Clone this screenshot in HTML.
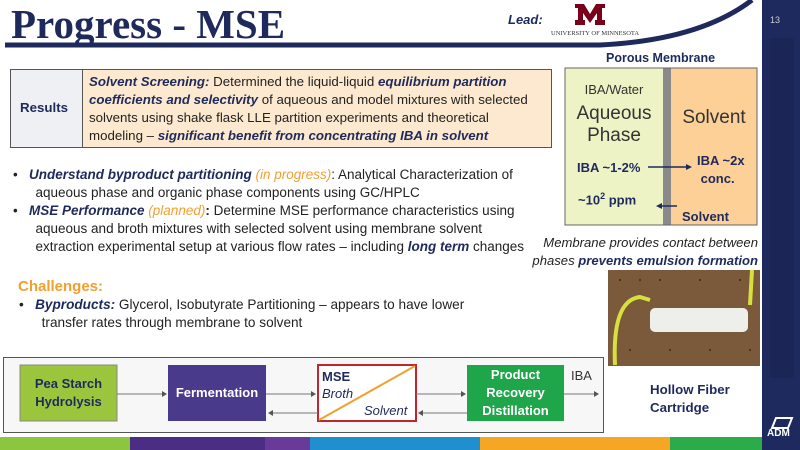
<!DOCTYPE html>
<html><head><meta charset="utf-8"><style>
body{margin:0;width:800px;height:450px;overflow:hidden;background:#fff;font-family:"Liberation Sans",sans-serif;position:relative}
.a{position:absolute;white-space:nowrap}
.n{color:#1f2a5c}
.t{font-size:13.3px;line-height:18px;color:#222}
.o{color:#f0a030}
.box{position:absolute;display:flex;align-items:center;justify-content:center;text-align:center;color:#fff;font-weight:bold;font-size:13px;line-height:18px}
</style></head><body>
<svg class="a" style="left:0;top:0" width="800" height="450">
<path d="M5 45 L600 45 Q700 40 752 0" stroke="#1f2a5c" stroke-width="5" fill="none"/>
<rect x="762" y="0" width="38" height="450" fill="#1e2a5e"/>
<rect x="770" y="38" width="24" height="340" fill="#1b2656"/>
<rect x="0" y="437" width="130" height="13" fill="#8cc63f"/>
<rect x="130" y="437" width="180" height="13" fill="#4b2e83"/>
<rect x="265" y="437" width="45" height="13" fill="#6a3a9a"/>
<rect x="310" y="437" width="170" height="13" fill="#1f8fd0"/>
<rect x="480" y="437" width="190" height="13" fill="#f5a623"/>
<rect x="670" y="437" width="92" height="13" fill="#2bab4a"/>
<path d="M575 25 L575 20 L578 20 L578 8 L575 8 L575 4 L584 4 L590 14 L596 4 L605 4 L605 8 L602 8 L602 20 L605 20 L605 25 L595 25 L595 20 L597 20 L597 13 L590 23 L583 13 L583 20 L585 20 L585 25 Z" fill="#7a0019"/>
<rect x="10.5" y="69.5" width="541" height="78" fill="#fde9cf" stroke="#555" stroke-width="1"/>
<rect x="10.5" y="69.5" width="72" height="78" fill="#eef0f4" stroke="#555" stroke-width="1"/>
<rect x="565" y="68" width="98" height="157" fill="#eef3c6"/>
<rect x="663" y="68" width="8" height="157" fill="#8a8a8a"/>
<rect x="671" y="68" width="86" height="157" fill="#fcd096"/>
<rect x="565" y="68" width="192" height="157" fill="none" stroke="#666"/>
<line x1="648" y1="167" x2="688" y2="167" stroke="#1f2a5c" stroke-width="1.5"/><path d="M692 167 L686 164 L686 170Z" fill="#1f2a5c"/>
<line x1="677" y1="206" x2="660" y2="206" stroke="#1f2a5c" stroke-width="1.5"/><path d="M656 206 L662 203 L662 209Z" fill="#1f2a5c"/>
<rect x="608" y="270" width="152" height="96" fill="#7a5a3a"/>
<g fill="#3a2a1a"><circle cx="620" cy="280" r="1"/><circle cx="640" cy="280" r="1"/><circle cx="660" cy="280" r="1"/><circle cx="700" cy="280" r="1"/><circle cx="740" cy="280" r="1"/><circle cx="630" cy="350" r="1"/><circle cx="670" cy="350" r="1"/><circle cx="710" cy="350" r="1"/><circle cx="750" cy="350" r="1"/></g>
<rect x="650" y="308" width="98" height="24" rx="5" fill="#eeeeea"/>
<path d="M615 365 Q612 300 640 297 L650 300" stroke="#d8e040" stroke-width="4" fill="none"/>
<path d="M750 305 L752 270" stroke="#d8e040" stroke-width="4" fill="none"/>
<rect x="3.5" y="357.5" width="600" height="75" fill="#f7f7f7" stroke="#555"/>
<rect x="20" y="365" width="97" height="56" fill="#9bc53d" stroke="#888"/>
<rect x="168" y="365" width="98" height="56" fill="#4a3a8c"/>
<rect x="318" y="365" width="98" height="56" fill="#fff" stroke="#c0262d" stroke-width="2"/>
<line x1="319" y1="420" x2="415" y2="366" stroke="#f0a030" stroke-width="2"/>
<rect x="467" y="365" width="97" height="56" fill="#1fa64a"/>
<g stroke="#777" stroke-width="1"><line x1="117" y1="394" x2="164" y2="394"/><line x1="266" y1="394" x2="313" y2="394"/><line x1="416" y1="394" x2="463" y2="394"/><line x1="564" y1="394" x2="596" y2="394"/><line x1="318" y1="413" x2="272" y2="413"/><line x1="467" y1="413" x2="422" y2="413"/></g>
<g fill="#555"><path d="M167 394l-5-3v6z"/><path d="M316 394l-5-3v6z"/><path d="M466 394l-5-3v6z"/><path d="M599 394l-5-3v6z"/><path d="M268 413l5-3v6z"/><path d="M418 413l5-3v6z"/></g>
<path d="M776 418 L792 418 L788 428 L772 428 Z" fill="none" stroke="#fff" stroke-width="2"/>
</svg>
<div class="a n" style="left:11px;top:2px;font:bold 41px 'Liberation Serif',serif;line-height:44px">Progress - MSE</div>
<div class="a n" style="left:508px;top:12px;font:italic bold 13px 'Liberation Sans',sans-serif">Lead:</div>
<div class="a" style="left:551px;top:30px;font:6.5px 'Liberation Serif',serif;color:#333">UNIVERSITY OF MINNESOTA</div>
<div class="a" style="left:770px;top:15px;font-size:9px;color:#ccc">13</div>
<div class="a n" style="left:20px;top:100px;font-weight:bold;font-size:13.3px">Results</div>
<div class="a t" style="left:89px;top:73px"><b><i class="n">Solvent Screening:</i></b> Determined the liquid-liquid <b><i class="n">equilibrium partition</i></b><br><b><i class="n">coefficients and selectivity</i></b> of aqueous and model mixtures with selected<br>solvents using shake flask LLE partition experiments and theoretical<br>modeling – <b><i class="n">significant benefit from concentrating IBA in solvent</i></b></div>
<div class="a n" style="left:606px;top:51px;font-weight:bold;font-size:12.5px">Porous Membrane</div>
<div class="a" style="left:565px;width:98px;top:82px;text-align:center;font-size:13px;color:#333">IBA/Water</div>
<div class="a" style="left:565px;width:98px;top:103px;text-align:center;font-size:19px;line-height:22px;color:#333">Aqueous<br>Phase</div>
<div class="a" style="left:671px;width:86px;top:107px;text-align:center;font-size:19px;color:#333">Solvent</div>
<div class="a n" style="left:577px;top:160px;font-weight:bold;font-size:13px">IBA ~1-2%</div>
<div class="a n" style="left:697px;top:152px;font-weight:bold;font-size:13px;line-height:18px">IBA ~2x<br>&nbsp;conc.</div>
<div class="a n" style="left:578px;top:191px;font-weight:bold;font-size:13px">~10<sup style="font-size:9px">2</sup> ppm</div>
<div class="a n" style="left:682px;top:209px;font-weight:bold;font-size:13px">Solvent</div>
<div class="a" style="right:42px;top:234px;text-align:right;font-style:italic;font-size:13.1px;line-height:18px;color:#222">Membrane provides contact between<br>phases <b class="n">prevents emulsion formation</b></div>
<div class="a t" style="left:13px;top:166px;font-size:13.5px">•&nbsp;&nbsp;&nbsp;<b><i class="n">Understand byproduct partitioning</i></b> <i class="o">(in progress)</i>: Analytical Characterization of<br>&nbsp;&nbsp;&nbsp;&nbsp;&nbsp;&nbsp;aqueous phase and organic phase components using GC/HPLC<br>•&nbsp;&nbsp;&nbsp;<b><i class="n">MSE Performance</i></b> <i class="o">(planned)</i><b>:</b> Determine MSE performance characteristics using<br>&nbsp;&nbsp;&nbsp;&nbsp;&nbsp;&nbsp;aqueous and broth mixtures with selected solvent using membrane solvent<br>&nbsp;&nbsp;&nbsp;&nbsp;&nbsp;&nbsp;extraction experimental setup at various flow rates – including <b><i class="n">long term</i></b> changes</div>
<div class="a" style="left:18px;top:278px;font-weight:bold;font-size:15px;color:#f0a030">Challenges:</div>
<div class="a t" style="left:19px;top:296px;font-size:13.6px">•&nbsp;&nbsp;&nbsp;<b><i class="n">Byproducts:</i></b> Glycerol, Isobutyrate Partitioning – appears to have lower<br>&nbsp;&nbsp;&nbsp;&nbsp;&nbsp;&nbsp;transfer rates through membrane to solvent</div>
<div class="box" style="left:20px;top:365px;width:97px;height:56px;color:#1f2a5c">Pea Starch<br>Hydrolysis</div>
<div class="box" style="left:168px;top:365px;width:98px;height:56px">Fermentation</div>
<div class="box" style="left:467px;top:365px;width:97px;height:56px">Product<br>Recovery<br>Distillation</div>
<div class="a n" style="left:322px;top:369px;font-weight:bold;font-size:13px">MSE</div>
<div class="a n" style="left:322px;top:386px;font-style:italic;font-size:13px">Broth</div>
<div class="a n" style="left:364px;top:403px;font-style:italic;font-size:13px">Solvent</div>
<div class="a" style="left:571px;top:368px;font-size:13px;color:#333">IBA</div>
<div class="a n" style="left:650px;top:381px;font-weight:bold;font-size:13.3px;line-height:18px">Hollow Fiber<br>Cartridge</div>
<div class="a" style="left:767px;top:428px;font:bold 10px 'Liberation Sans',sans-serif;color:#fff">ADM</div>
</body></html>
